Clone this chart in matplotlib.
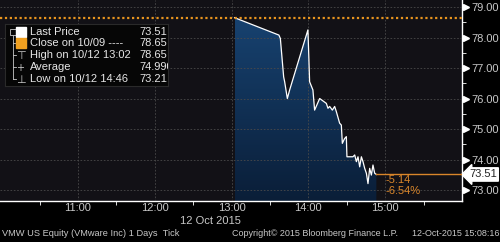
import numpy as np
import matplotlib.pyplot as plt
from matplotlib.colors import LinearSegmentedColormap
from matplotlib.ticker import FixedLocator, MultipleLocator, FormatStrFormatter
import matplotlib.transforms as mtransforms

plt.rcParams['font.family'] = ['Liberation Sans', 'DejaVu Sans']

# datos (hora decimal, precio)
horas = [13.039, 13.616, 13.635, 13.678, 13.691, 13.726, 13.756, 13.994, 14.007,
         14.016, 14.059, 14.081, 14.147, 14.234, 14.255, 14.277, 14.312, 14.342,
         14.364, 14.407, 14.429, 14.442, 14.472, 14.494, 14.502, 14.580, 14.603,
         14.625, 14.646, 14.668, 14.690, 14.711, 14.733, 14.755, 14.776, 14.798,
         14.820, 14.841, 14.863, 14.885]
precios = [78.65, 78.08, 77.97, 76.71, 76.55, 76.00, 76.28, 78.25, 77.26,
           76.55, 76.28, 75.62, 76.00, 75.84, 75.68, 75.74, 75.62, 75.74,
           75.57, 75.19, 75.13, 74.53, 74.69, 74.75, 74.09, 74.09, 74.15,
           73.93, 74.09, 73.76, 74.09, 73.93, 73.71, 73.55, 73.21, 73.71,
           73.49, 73.82, 73.55, 73.51]

cierre_previo = 78.65
ultimo = 73.51
cambio = '-5.14'
cambio_pct = '-6.54%'

horas_ticks = [11, 12, 13, 14, 15]
etiquetas_x = ['11:00', '12:00', '13:00', '14:00', '15:00']
precios_ticks = [73, 74, 75, 76, 77, 78, 79]

leyenda_txt = ['Last Price', 'Close on 10/09 ----', 'High on 10/12 13:02', 'Average',
               'Low on 10/12 14:46']
leyenda_val = ['73.51', '78.65', '78.65', '74.9909', '73.21']

xmin, xmax = 9.985, 16.0
ymin, ymax = 72.64, 79.23

gris = '#c8c8c8'
naranja = '#e8941f'

fig = plt.figure(figsize=(5, 2.42), dpi=100, facecolor='black')
ax = fig.add_axes([0, 41/242, 462/500, 201/242])
ax.set_facecolor('#121116')

# relleno con degrade
poly = ax.fill_between(horas, precios, ymin, color='none', lw=0)
cmap = LinearSegmentedColormap.from_list('azul', ['#0a1e38', '#174270'])
grad = np.linspace(0, 1, 256).reshape(-1, 1)
img = ax.imshow(grad, extent=[horas[0], horas[-1], ymin, max(precios)], origin='lower',
                aspect='auto', cmap=cmap, zorder=1)
img.set_clip_path(poly.get_paths()[0], transform=ax.transData)

ax.plot(horas, precios, color='white', lw=0.9, zorder=3)

# linea de cierre previo y ultimo precio
ax.axhline(cierre_previo, color=naranja, lw=1.6, ls=(0, (1, 1.2)), zorder=4)
ax.plot([horas[-1], xmax], [ultimo, ultimo], color='#d9862a', lw=1, zorder=4)
ax.text(15.0, 73.33, cambio, color='#d9862a', fontsize=8, va='center', ha='left')
ax.text(15.0, 72.97, cambio_pct, color='#d9862a', fontsize=8, va='center', ha='left')

ax.set_xlim(xmin, xmax)
ax.set_ylim(ymin, ymax)

# grilla
ax.xaxis.set_major_locator(FixedLocator(horas_ticks))
ax.set_xticklabels(etiquetas_x)
ax.xaxis.set_minor_locator(FixedLocator([10.5, 11.5, 12.5, 13.5, 14.5, 15.5]))
ax.yaxis.set_major_locator(FixedLocator(precios_ticks))
ax.yaxis.set_major_formatter(FormatStrFormatter('%.2f'))
ax.yaxis.set_minor_locator(MultipleLocator(0.5))
ax.grid(True, which='major', color='#4a4a4a', lw=0.6, ls=(0, (2, 2)), zorder=5)
ax.set_axisbelow(False)

for s in ['top', 'left']:
    ax.spines[s].set_visible(False)
for s in ['right', 'bottom']:
    ax.spines[s].set_color('white')
    ax.spines[s].set_linewidth(1)

ax.yaxis.tick_right()
ax.tick_params(axis='y', which='major', length=0, pad=7, labelsize=8, labelcolor=gris)
ax.tick_params(axis='y', which='minor', length=3, color='white', direction='out')
ax.tick_params(axis='x', which='major', length=0, pad=1.5, labelsize=8, labelcolor=gris)
ax.tick_params(axis='x', which='minor', length=3, color='white', direction='out')

# triangulos de los ticks del eje derecho
tr = mtransforms.blended_transform_factory(ax.transAxes, ax.transData)
ax.plot([1.008] * len(precios_ticks), precios_ticks, ls='none', marker='>', ms=4,
        color='white', transform=tr, clip_on=False)

# etiqueta del ultimo precio
ax.annotate('73.51', xy=(1.0, ultimo), xycoords=tr, xytext=(5, 0), textcoords='offset points',
            ha='left', va='center', fontsize=8, color='#222222',
            bbox=dict(boxstyle='larrow,pad=0.15', fc='white', ec='white'))

fig.text(241/500, 1 - 221/242, '12 Oct 2015', ha='right', va='center', fontsize=8, color=gris)
fig.text(2/500, 1 - 234/242, 'VMW US Equity (VMware Inc) 1 Days  Tick', ha='left', va='center',
         fontsize=6.7, color=gris)
fig.text(232/500, 1 - 234/242, 'Copyright\u00a9 2015 Bloomberg Finance L.P.', ha='left', va='center',
         fontsize=6.5, color=gris)
fig.text(499/500, 1 - 234/242, '12-Oct-2015 15:08:16', ha='right', va='center',
         fontsize=6.5, color=gris)

# caja de leyenda
lg = fig.add_axes([5/500, 1 - 86/242, 163/500, 62/242])
lg.set_facecolor('#060606')
lg.set_xlim(0, 163)
lg.set_ylim(62, 0)
lg.set_xticks([])
lg.set_yticks([])
for s in lg.spines.values():
    s.set_color('#2a2a2a')
    s.set_linewidth(0.8)

filas = [8, 19.5, 31, 43.5, 55]
lg.plot([8, 8], [8, 55], color=gris, lw=0.6)
for y in filas[1:]:
    lg.plot([8, 11], [y, y], color=gris, lw=0.6)
lg.plot(8, 8, marker='s', ms=4.5, mfc='#060606', mec=gris, mew=0.6, ls='none')
lg.plot(15.5, filas[0], marker='s', ms=7.5, color='white', ls='none')
lg.plot(15.5, filas[1], marker='s', ms=7.5, color='#f0a020', ls='none')
lg.text(15.5, filas[2], r'$\top$', color=gris, fontsize=8, ha='center', va='center')
lg.text(15.5, filas[3], r'$+$', color=gris, fontsize=7, ha='center', va='center')
lg.text(15.5, filas[4], r'$\bot$', color=gris, fontsize=8, ha='center', va='center')
for y, t, v in zip(filas, leyenda_txt, leyenda_val):
    lg.text(25, y, t, color='#e6e6e6', fontsize=8, va='center', ha='left', clip_on=True)
    lg.text(134, y, v, color='#e6e6e6', fontsize=8, va='center', ha='left', clip_on=True)

fig.savefig('out.png', dpi=100, facecolor='black')
